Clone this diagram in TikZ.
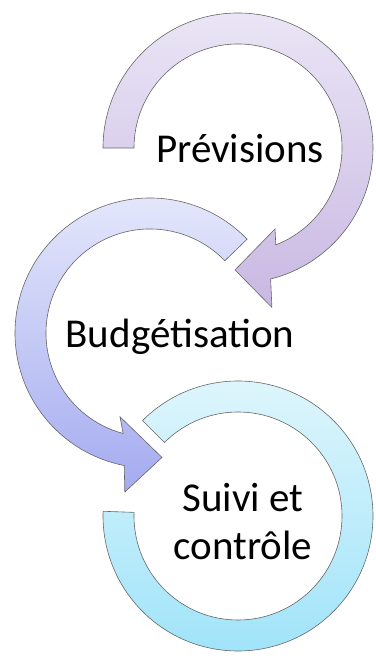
\documentclass[tikz,border=0pt]{standalone}
\usepackage{fontspec}
\setmainfont{Carlito}
\definecolor{prevtop}{HTML}{EAE5F6}
\definecolor{prevbot}{HTML}{C9B8E2}
\definecolor{budgtop}{HTML}{E6E9FB}
\definecolor{budgbot}{HTML}{A4ABF0}
\definecolor{suivtop}{HTML}{E0F6FC}
\definecolor{suivbot}{HTML}{9EE3F9}
\begin{document}
\begin{tikzpicture}[x=1bp,y=1bp]
\useasboundingbox (0,0) rectangle (375,662);
\coordinate (c1) at (238,514);
\coordinate (c2) at (150,329);
\coordinate (c3) at (238,146);
\begin{scope}[draw=black!60, line width=0.6pt]
    % suivi et controle
    \draw [top color=suivtop, bottom color=suivbot]
        ([shift={(c3)}]135:135bp) arc[start angle=135, end angle=-182, radius=135bp]
        -- ([shift={(c3)}]-182:104bp) arc[start angle=-182, end angle=135, radius=104bp]
        -- cycle;
    % budgetisation
    \draw [top color=budgtop, bottom color=budgbot]
        ([shift={(c2)}]44:135bp) arc[start angle=44, end angle=259, radius=135bp]
        -- ([shift={(c2)}]261:161bp) -- ([shift={(c2)}]275.5:125bp)
        -- ([shift={(c2)}]250.3:89bp) -- ([shift={(c2)}]255:104bp)
        arc[start angle=255, end angle=44, radius=104bp] -- cycle;
    % previsions
    \draw [top color=prevtop, bottom color=prevbot]
        ([shift={(c1)}]180:135bp) arc[start angle=180, end angle=-76, radius=135bp]
        -- ([shift={(c1)}]-78:163bp) -- ([shift={(c1)}]-91.4:122bp)
        -- ([shift={(c1)}]-65.4:89bp) -- ([shift={(c1)}]-68.7:104bp)
        arc[start angle=-68.7, end angle=180, radius=104bp] -- cycle;
\end{scope}
\begin{scope}[every node/.style={font=\fontsize{41bp}{48bp}\selectfont, inner sep=0pt, anchor=base}]
    \node (prev) at (240,499) {Prévisions};
    \node (budg) at (180,314) {Budgétisation};
    \node (suiv) [align=center] at (243,102) {Suivi et\\contrôle};
\end{scope}
\end{tikzpicture}
\end{document}
